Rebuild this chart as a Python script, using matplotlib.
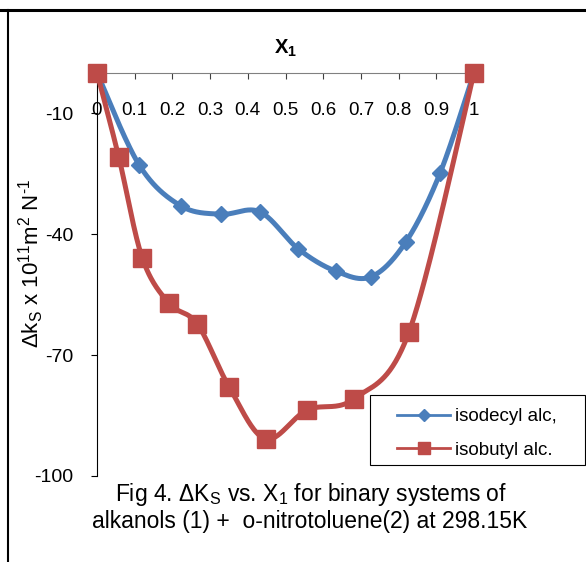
import matplotlib.pyplot as plt
import numpy as np
from matplotlib.lines import Line2D
from matplotlib.patches import Rectangle

plt.rcParams['font.family'] = ['Liberation Sans', 'DejaVu Sans']
plt.rcParams['mathtext.fontset'] = 'custom'
plt.rcParams['mathtext.rm'] = 'Liberation Sans'
plt.rcParams['mathtext.it'] = 'Liberation Sans:italic'
plt.rcParams['mathtext.bf'] = 'Liberation Sans:bold'

# values
x_isodecyl = [0, 0.112, 0.222, 0.329, 0.432, 0.534, 0.633, 0.727, 0.819, 0.910, 1]
dk_isodecyl = [0, -22.9, -33.0, -35.1, -34.5, -43.7, -49.2, -50.6, -42.0, -24.9, 0]
x_isobutyl = [0, 0.058, 0.120, 0.191, 0.266, 0.351, 0.447, 0.558, 0.683, 0.828, 1]
dk_isobutyl = [0, -21.0, -45.9, -57.2, -62.3, -78.0, -90.8, -83.6, -80.8, -64.2, 0]
labels = ["isodecyl alc,", "isobutyl alc."]
x_ticks = [0, 0.1, 0.2, 0.3, 0.4, 0.5, 0.6, 0.7, 0.8, 0.9, 1]
y_ticks = [-100, -70, -40, -10]

blue = '#4a7ebb'
red = '#be4b48'
fs = 13.5


def smooth(ax, xs, ys, n=40):
    # excel style smoothed line (bezier, catmull-rom controls) in pixel space
    p = ax.transData.transform(np.column_stack([xs, ys]))
    out = []
    m = len(p)
    t = np.linspace(0, 1, n)[:, None]
    for i in range(m - 1):
        p0 = p[max(i - 1, 0)]
        p1 = p[i]
        p2 = p[i + 1]
        p3 = p[min(i + 2, m - 1)]
        c1 = p1 + (p2 - p0) / 6
        c2 = p2 - (p3 - p1) / 6
        seg = ((1 - t) ** 3 * p1 + 3 * (1 - t) ** 2 * t * c1
               + 3 * (1 - t) * t ** 2 * c2 + t ** 3 * p2)
        out.append(seg)
    out = np.vstack(out)
    res = ax.transData.inverted().transform(out)
    return res[:, 0], res[:, 1]


fig = plt.figure(figsize=(5.86, 5.62), dpi=100)
ax = fig.add_axes([97 / 586, 1 - 476 / 562, 377 / 586, 403.3 / 562])
ax.set_xlim(0, 1)
ax.set_ylim(-100, 0)

# curves first, markers on top
sx, sy = smooth(ax, x_isodecyl, dk_isodecyl)
ax.plot(sx, sy, color=blue, lw=3.6, clip_on=False, zorder=3)
ax.plot(x_isodecyl, dk_isodecyl, ls='none', marker='D', ms=8.3, color=blue,
        clip_on=False, zorder=4)
sx, sy = smooth(ax, x_isobutyl, dk_isobutyl)
ax.plot(sx, sy, color=red, lw=3.6, clip_on=False, zorder=5)
ax.plot(x_isobutyl, dk_isobutyl, ls='none', marker='s', ms=13.5, color=red,
        clip_on=False, zorder=6)

# x axis sits on y = 0 (top of plot), labels below it
ax.spines['bottom'].set_position(('data', 0))
ax.spines['top'].set_visible(False)
ax.spines['right'].set_visible(False)
ax.spines['left'].set_color('#000000')
ax.spines['left'].set_linewidth(0.8)
ax.spines['bottom'].set_color('#808080')
ax.spines['bottom'].set_linewidth(0.8)

ax.set_xticks(x_ticks)
ax.set_xticklabels([f"{v:g}" for v in x_ticks])
ax.set_yticks(y_ticks)
ax.set_yticklabels([str(v) for v in y_ticks])
ax.tick_params(axis='x', direction='out', length=4, width=0.8, pad=17,
               labelsize=fs, color='#404040')
ax.tick_params(axis='y', direction='out', length=4, width=0.8, pad=13,
               labelsize=14)

ax.annotate(r"$\mathbf{X_1}$", xy=(0.5, 1), xycoords='axes fraction',
            xytext=(0, 14), textcoords='offset points', ha='center',
            va='baseline', fontsize=14.5)

fig.text(31 / 586, 1 - 264 / 562,
         r"$\Delta$k$_\mathrm{S}$ x 10$^{11}$m$^2$ N$^{\text{-1}}$",
         rotation=90, ha='center', va='center', fontsize=16)

# legend box drawn as its own rectangle, entries placed inside it
fig.add_artist(Rectangle((370 / 586, 1 - 465 / 562), 215 / 586, 70 / 562,
                         transform=fig.transFigure, facecolor='white',
                         edgecolor='black', lw=0.8, zorder=8))
h1 = Line2D([], [], color=blue, lw=2, marker='D', ms=6)
h2 = Line2D([], [], color=red, lw=2, marker='s', ms=8.5)
leg = fig.legend([h1, h2], labels, loc='upper left',
                 bbox_to_anchor=(397 / 586, 1 - 408 / 562),
                 borderaxespad=0, borderpad=0, fontsize=fs, frameon=False,
                 handlelength=2.83, handletextpad=0.27, labelspacing=0.87)
leg.set_zorder(9)

fig.text(311 / 586, 1 - 501.5 / 562,
         r"Fig 4. $\Delta$K$_\mathrm{S}$ vs. X$_1$ for binary systems of",
         ha='center', va='baseline', fontsize=16.5)
fig.text(310 / 586, 1 - 528 / 562,
         "alkanols (1) +  o-nitrotoluene(2) at 298.15K",
         ha='center', va='baseline', fontsize=16.5)

# page frame lines
fig.add_artist(Line2D([0, 1], [1 - 9.5 / 562] * 2, color='black', lw=2.2,
                      transform=fig.transFigure))
fig.add_artist(Line2D([7.5 / 586] * 2, [0, 1 - 9.5 / 562], color='black',
                      lw=1.5, transform=fig.transFigure))

fig.savefig('out.png', dpi=100)
